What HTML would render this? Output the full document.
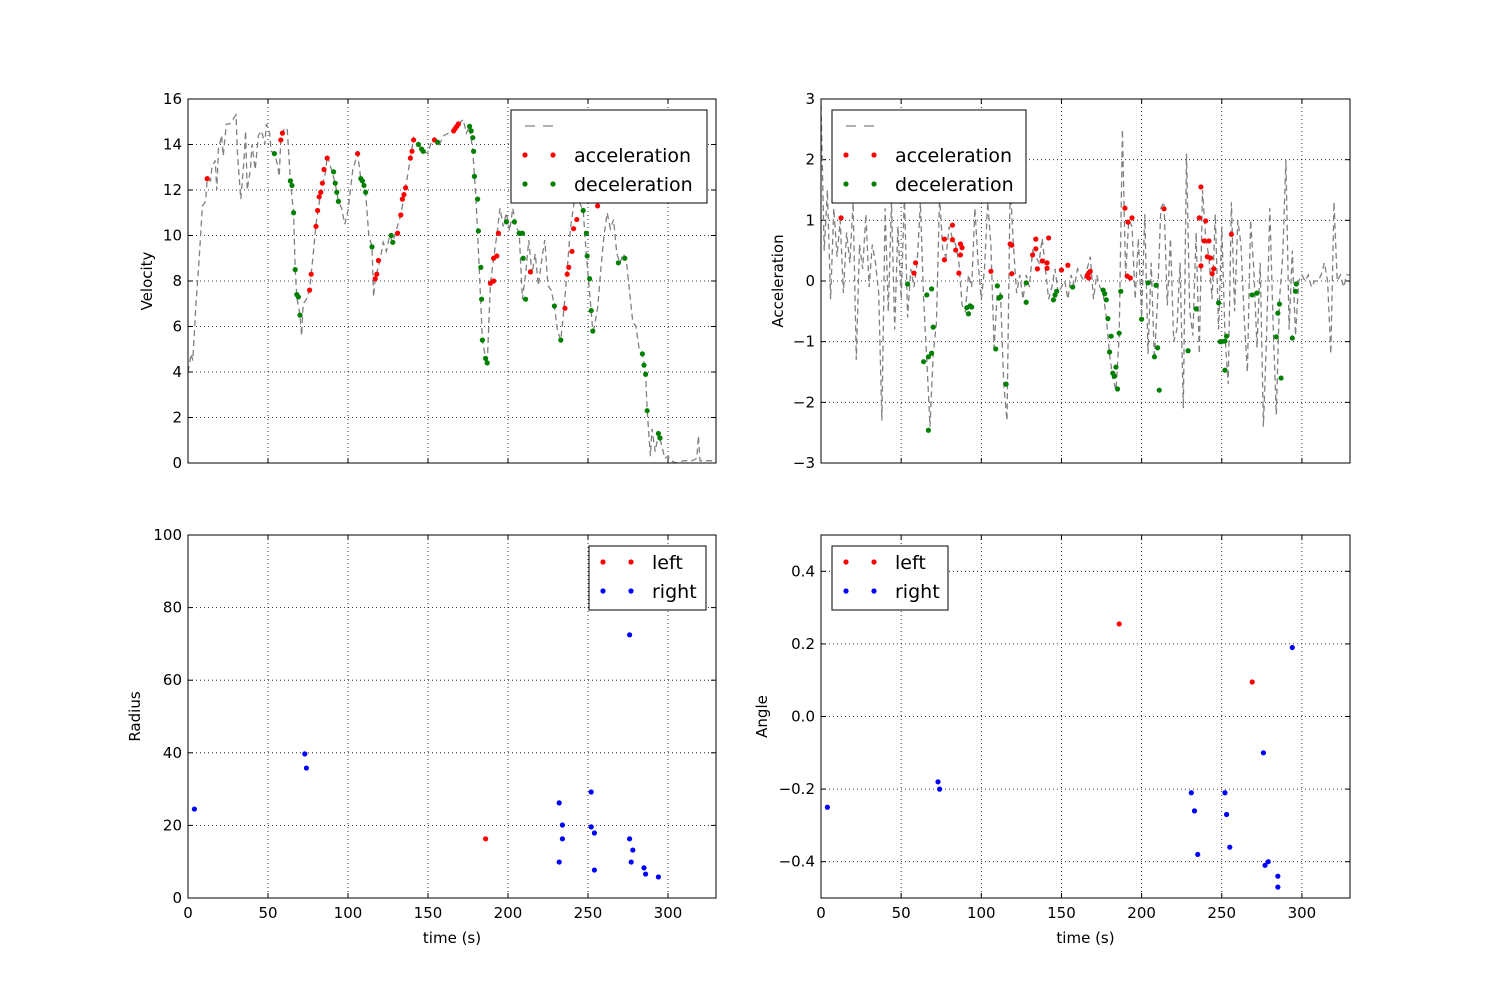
<!DOCTYPE html>
<html><head><meta charset="utf-8">
<style>
html,body{margin:0;padding:0;background:#fff;}
svg{display:block;font-family:"DejaVu Sans","Liberation Sans",sans-serif;}
</style></head>
<body>
<svg id="fig" width="1500" height="1000" xmlns="http://www.w3.org/2000/svg">
<rect width="1500" height="1000" fill="#fff"/>
</svg>
<script>
// ---- data ----
const velTimes = [0,2,3,5,7,9,11,12,14,15,17,18,19,21,22,24,26,28,30,31,33,35,36,37,39,40,42,44,46,48,49,51,52,54,56,57,58,60,62,64,66,67,68,70,71,72,74,76,78,80,83,86,87,88,90,92,94,96,98,100,103,106,108,111,113,115,116,117,120,122,124,126,128,130,133,136,139,141,144,147,150,152,154,157,160,163,166,169,172,174,176,178,180,182,184,186,187,189,191,193,195,197,199,201,203,205,207,209,211,213,215,217,219,221,223,225,227,229,231,233,235,237,239,241,243,245,247,249,251,253,254,256,258,260,262,264,266,268,270,272,274,276,278,280,282,284,286,287,289,290,292,294,296,298,300,302,305,310,315,318,319,320,325,330];
const velValues = [4.0,4.8,4.5,7,9,11.3,11.5,12.5,12.4,13,13.3,12.0,13.8,14.4,13.5,14.9,14.9,15.1,15.3,13.5,11.6,13.3,14.6,12.0,12.9,14.0,12.9,14.4,14.6,14.0,14.9,14.5,13.7,13.6,13.1,12.6,14.2,14.7,14.7,12.4,11,8.5,7.3,6.5,5.6,7,7.2,7.6,9,10.5,11.9,12.8,13.5,13.3,12.8,12.3,11.5,11.2,10.5,11.1,12.9,13.6,12.5,11.9,10,9.5,7.3,8.1,8.9,9.7,9.3,10,9.7,10.2,10.9,12.1,13.4,14.3,14,13.7,13.6,14.1,14.3,14.0,14.4,14.5,14.6,14.9,15.1,14.5,14.8,13.7,11.6,8.6,5.4,4.6,4.3,7.9,9,10,11.2,10.4,11,10.2,11.2,10.4,10.1,7.2,8.3,9.8,8.3,9.2,7.8,8.9,9.8,7.8,7.6,6.9,5.8,5.4,6.8,8.5,10.3,11.3,12.0,11.4,11.1,9.1,7.5,5.8,6.0,6.8,8.5,10,11,10.3,10.7,9.2,8.8,9.2,8.9,7.5,6.2,6.0,5.0,4.8,3.9,2.3,0.3,1.5,0.5,1.3,0.8,0.2,0.3,0.1,0,0.1,0.1,0.2,1.2,0.1,0.1,0.1];
const velAccT = [12,58,59,76,77,80,81,82,83,84,85,87,106,117,118,119,131,133,134,135,136,139,140,141,154,166,167,168,169,189,191,191,193,194,214,235.6,237,238,240,241,243,256];
const velAccV = [12.5,14.2,14.5,7.6,8.3,10.4,11.1,11.7,11.9,12.3,12.9,13.4,13.6,8.1,8.3,8.9,10.1,10.9,11.6,11.8,12.1,13.4,13.7,14.2,14.2,14.6,14.7,14.8,14.9,7.9,8.0,9.0,9.1,10.1,8.4,6.8,8.3,8.6,9.3,10.3,10.7,11.3,6.8];
const velDecT = [54,64,65,66,67,68,69,70,91,92,93,94,108,109,110,111,115,127,128,144,146,147,156,176,177,178,178.5,179,181,181.5,183,183.5,184,186,187,199,204,207,209,209.5,211,229,233,247,249,249.5,251,252,253,269,273,284,285,286,287,294,295];
const velDecV = [13.6,12.4,12.2,11.0,8.5,7.4,7.3,6.5,12.8,12.3,11.9,11.5,12.5,12.4,12.2,11.9,9.5,10.0,9.7,14.0,13.8,13.7,14.1,14.8,14.6,14.3,13.7,12.6,11.6,10.2,8.6,7.2,5.4,4.6,4.4,10.6,10.6,10.1,10.1,9.0,7.2,6.9,5.4,11.1,10.1,9.1,8.1,6.7,5.8,8.8,9.0,4.8,4.3,3.9,2.3,1.3,1.1];

const accValues = [2.9,0.5,1.5,-0.3,1.2,0.4,1.0,-0.2,0.8,0.3,1.3,
-1.3,0.6,0.2,1.1,-0.1,0.6,0.3,-0.2,-2.3,1.2,
-0.5,1.3,-0.8,0.9,-0.3,1.4,-0.6,0.2,-0.1,0.3,
1.3,-0.3,-1.3,-2.4,-1.2,-0.7,1.4,0.5,0.4,0.9,
0.7,0.6,0.3,-0.4,-0.5,0.1,-0.1,1.2,0.3,-0.3,
0.2,1.3,0.6,-1.1,-0.2,-0.2,-1.7,-2.3,1.6,0.6,
-0.2,0.1,-0.3,0.1,-0.1,0.5,0.4,0.3,0.7,0.2,
-0.3,-0.1,0.2,-0.2,-0.1,0.0,-0.3,0.1,-0.1,0.2,
0.1,0.0,0.2,0.4,-0.3,0.1,-0.1,-0.2,-0.6,-1.2,
-1.6,-1.8,-0.9,2.5,0.1,1.0,0.9,-0.3,0.7,-0.6,
1.1,-1.2,0.3,-1.3,-0.3,1.2,1.3,-0.4,0.7,-1.0,
-0.8,0.3,-2.1,2.1,-0.5,-0.9,0.8,-1.2,1.5,0.7,
0.4,-0.3,1.1,-0.8,0.9,-0.9,-1.7,1.3,-0.5,1.0,
0.6,-0.6,-1.5,1.0,0.2,-1.1,0.3,-2.4,-0.9,1.2,
-0.7,-2.2,-0.3,0.4,2.0,-0.8,0.5,-0.9,0.0,0.1,
0.0,0.1,-0.1,0.0,0.0,0.1,0.3,0.0,-1.2,1.3,
0.0,0.1,-0.1,0.1,0.1];
const accStep = 2;
const accAccT = [12.5,58,59,77,82,77,82,84,87,88,86,87,106,118,119,119,132,134,134,138,135,141,142,141,150,154,166,167,189.6,191.5,194,191,193,214,237,236,240,239,242,241,243,237,245,244,256,167,168];
const accAccV = [1.04,0.13,0.3,0.69,0.92,0.35,0.68,0.51,0.61,0.55,0.13,0.43,0.16,0.61,0.59,0.12,0.43,0.69,0.53,0.33,0.2,0.21,0.71,0.3,0.18,0.26,0.08,0.13,1.2,0.97,1.04,0.08,0.05,1.19,1.55,1.04,0.99,0.66,0.66,0.4,0.38,0.25,0.2,0.12,0.77,0.05,0.16];
const accDecT = [54,66,69,70,64,67,69,67,91,92,93,94,110,111,112,109,115.5,128,128,145,146,147,157,176,177,178,179,181,180,182,183,185,184,186,187,200,204,209,210,208,211,229,234,248,249,250,252,253,252,269,272,284,285,286,287,294,296,296.5];
const accDecV = [-0.05,-0.23,-0.13,-0.76,-1.33,-1.25,-1.19,-2.46,-0.44,-0.54,-0.41,-0.43,-0.08,-0.28,-0.26,-1.12,-1.7,-0.03,-0.35,-0.31,-0.23,-0.17,-0.1,-0.15,-0.21,-0.31,-0.62,-0.91,-1.17,-1.52,-1.57,-1.78,-1.42,-0.86,-0.17,-0.63,-0.03,-0.07,-1.1,-1.25,-1.8,-1.15,-0.46,-0.36,-1.0,-1.0,-0.99,-0.91,-1.47,-0.23,-0.2,-0.92,-0.53,-0.38,-1.6,-0.94,-0.17,-0.05];

const radRightT = [4,73,74,232,234,234,232,252,252,254,254,276,276,278,277,285,286,294];
const radRightV = [24.5,39.7,35.8,26.2,20.1,16.3,9.9,29.2,19.6,17.9,7.7,72.5,16.3,13.2,9.9,8.3,6.6,5.8];
const radLeftT = [186];
const radLeftV = [16.3];

const angRightT = [4,73,74,231,233,235,252,253,255,276,277,279,285,285,294];
const angRightV = [-0.25,-0.18,-0.2,-0.21,-0.26,-0.38,-0.21,-0.27,-0.36,-0.1,-0.41,-0.4,-0.44,-0.47,0.19];
const angLeftT = [186,269];
const angLeftV = [0.255,0.095];

const xTicks = [0,50,100,150,200,250,300];
const velTicks = [0,2,4,6,8,10,12,14,16];
const accTicks = [-3,-2,-1,0,1,2,3];
const radTicks = [0,20,40,60,80,100];
const angTicks = [-0.4,-0.2,0.0,0.2,0.4];

// ---- drawing ----
const NS = 'http://www.w3.org/2000/svg';
const svg = document.getElementById('fig');
function mk(tag, attrs, parent) {
  const e = document.createElementNS(NS, tag);
  for (const k in attrs) e.setAttribute(k, attrs[k]);
  (parent || svg).appendChild(e);
  return e;
}
function fmt(v, dec) { const s = v.toFixed(dec); return s.replace('-', '\u2212'); }

function makeAxes(name, L, T, W, H, ymin, ymax, yticks, ydec, ylabel, ylabelX, showX) {
  const g = mk('g', {});
  
  
  const sx = t => L + t / 330 * W;
  const sy = v => T + H - (v - ymin) / (ymax - ymin) * H;
  const grid = mk('g', {}, g);
  
  
  xTicks.forEach(t => {
    const x = sx(t);
    mk('line', {x1:x, x2:x, y1:T, y2:T+H, stroke:'#000', 'stroke-width':0.8, 'stroke-dasharray':'1,3'}, grid);
    mk('line', {x1:x, x2:x, y1:T+H, y2:T+H-5, stroke:'#000', 'stroke-width':1}, g);
    mk('line', {x1:x, x2:x, y1:T, y2:T+5, stroke:'#000', 'stroke-width':1}, g);
    if (showX) {
      const tl = mk('text', {x:x, y:T+H+20, 'font-size':15, 'text-anchor':'middle'}, g);
      
      
      tl.textContent = t;
    }
  });
  yticks.forEach(v => {
    const y = sy(v);
    mk('line', {x1:L, x2:L+W, y1:y, y2:y, stroke:'#000', 'stroke-width':0.8, 'stroke-dasharray':'1,3'}, grid);
    mk('line', {x1:L, x2:L+5, y1:y, y2:y, stroke:'#000', 'stroke-width':1}, g);
    mk('line', {x1:L+W, x2:L+W-5, y1:y, y2:y, stroke:'#000', 'stroke-width':1}, g);
    const tl = mk('text', {x:L-6, y:y+5, 'font-size':15, 'text-anchor':'end'}, g);
    
    
    tl.textContent = fmt(v, ydec);
  });
  const yl = mk('text', {x:ylabelX, y:T+H/2, 'font-size':15, 'text-anchor':'middle', transform:`rotate(-90 ${ylabelX} ${T+H/2})`}, g);
  
  
  yl.textContent = ylabel;
  if (showX) {
    const xl = mk('text', {x:L+W/2, y:T+H+45, 'font-size':15, 'text-anchor':'middle'}, g);
    
    
    xl.textContent = 'time (s)';
  }
  const plot = mk('g', {}, g);
  
  
  const clipId = name + '-clip';
  const cp = mk('clipPath', {id: clipId}, g);
  mk('rect', {x:L, y:T, width:W, height:H}, cp);
  plot.setAttribute('clip-path', `url(#${clipId})`);
  return {g, plot, sx, sy, L, T, W, H};
}

function drawLine(ax, ts, vs, name) {
  const d = ts.map((t, i) => (i ? 'L' : 'M') + ax.sx(t).toFixed(1) + ',' + ax.sy(vs[i]).toFixed(1)).join('');
  const p = mk('path', {d, fill:'none', stroke:'#808080', 'stroke-width':1.3, 'stroke-dasharray':'6,4'}, ax.plot);
  
  
}
function drawPts(ax, ts, vs, color, name) {
  const grp = mk('g', {}, ax.plot);
  
  
  ts.forEach((t, i) => {
    const c = mk('circle', {cx:ax.sx(t), cy:ax.sy(vs[i]), r:2.6, fill:color}, grp);
    
    
  });
}
function frame(ax) {
  const r = mk('rect', {x:ax.L, y:ax.T, width:ax.W, height:ax.H, fill:'none', stroke:'#000', 'stroke-width':1}, ax.g);
  
  
}
function legend(x, y, w, entries) {
  const h = entries.length * 29 + 6;
  const g = mk('g', {});
  
  
  mk('rect', {x, y, width:w, height:h, fill:'#fff', stroke:'#000', 'stroke-width':1}, g);
  entries.forEach((e, i) => {
    const cy = y + 16 + i * 29;
    const eg = mk('g', {}, g);
    
    
    if (e.type === 'line') {
      mk('line', {x1:x+14, x2:x+42, y1:cy, y2:cy, stroke:'#808080', 'stroke-width':1.3, 'stroke-dasharray':'10,8'}, eg);
    } else {
      mk('circle', {cx:x+14, cy, r:2.6, fill:e.color}, eg);
      mk('circle', {cx:x+42, cy, r:2.6, fill:e.color}, eg);
    }
    if (e.label) {
      const t = mk('text', {x:x+63, y:cy+7, 'font-size':19}, eg);
      t.textContent = e.label;
    }
  });
}

// Velocity
const a1 = makeAxes('velocity-chart', 188, 99, 528, 364, 0, 16, velTicks, 0, 'Velocity', 152, false);
drawLine(a1, velTimes, velValues, 'velocity-line');
drawPts(a1, velAccT, velAccV, '#ff0000', 'acceleration-points');
drawPts(a1, velDecT, velDecV, '#008000', 'deceleration-points');
frame(a1);
legend(511, 110, 196, [{type:'line'}, {color:'#ff0000', label:'acceleration'}, {color:'#008000', label:'deceleration'}]);

// Acceleration
const a2 = makeAxes('acceleration-chart', 821, 99, 529, 364, -3, 3, accTicks, 0, 'Acceleration', 783, false);
const accTimes = accValues.map((v, i) => i * accStep);
drawLine(a2, accTimes, accValues, 'acceleration-line');
drawPts(a2, accAccT, accAccV, '#ff0000', 'acceleration-points');
drawPts(a2, accDecT, accDecV, '#008000', 'deceleration-points');
frame(a2);
legend(832, 110, 194, [{type:'line'}, {color:'#ff0000', label:'acceleration'}, {color:'#008000', label:'deceleration'}]);

// Radius
const a3 = makeAxes('radius-chart', 188, 535, 528, 363, 0, 100, radTicks, 0, 'Radius', 140, true);
drawPts(a3, radLeftT, radLeftV, '#ff0000', 'left-points');
drawPts(a3, radRightT, radRightV, '#0000ff', 'right-points');
frame(a3);
legend(589, 546, 117, [{color:'#ff0000', label:'left'}, {color:'#0000ff', label:'right'}]);

// Angle
const a4 = makeAxes('angle-chart', 821, 535, 529, 363, -0.5, 0.5, angTicks, 1, 'Angle', 767, true);
drawPts(a4, angLeftT, angLeftV, '#ff0000', 'left-points');
drawPts(a4, angRightT, angRightV, '#0000ff', 'right-points');
frame(a4);
legend(832, 546, 116, [{color:'#ff0000', label:'left'}, {color:'#0000ff', label:'right'}]);
</script>
</body></html>
